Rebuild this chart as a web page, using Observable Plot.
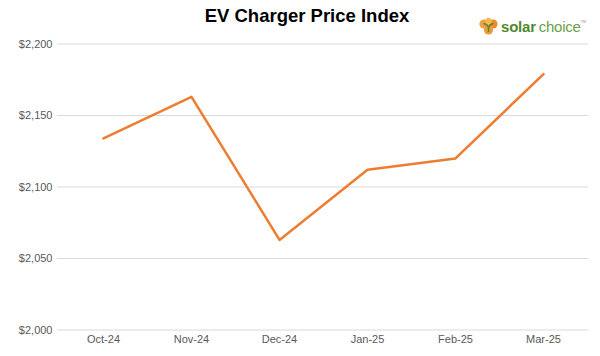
<!DOCTYPE html>
<html>
<head>
<meta charset="utf-8">
<script src="https://cdn.jsdelivr.net/npm/d3@7"></script>
<script src="https://cdn.jsdelivr.net/npm/@observablehq/plot@0.6"></script>
<style>
  body { margin: 0; background: #fff; font-family: "Liberation Sans", Arial, sans-serif; }
  #wrap { position: relative; width: 600px; height: 356px; overflow: hidden; }
  #title { position: absolute; left: 0; width: 614px; top: 5px; text-align: center; font-size: 18.5px; font-weight: bold; color: #000; }
  #logo { position: absolute; left: 479px; top: 17px; display: flex; align-items: center; }
  #logo .t1 { font-size: 15px; font-weight: bold; color: #4f8a2e; margin-left: 3px; letter-spacing: -0.2px; }
  #logo .t2 { font-size: 15px; color: #6aa14a; margin-left: 3px; letter-spacing: -0.3px; }
  #logo .tm { font-size: 4px; color: #999; align-self: flex-start; margin-top: 2px; }
  #chart { position: absolute; left: 0; top: 36px; }
</style>
</head>
<body>
<div id="wrap">
  <div id="title">EV Charger Price Index</div>
  <div id="logo">
    <svg width="19" height="18" viewBox="0 0 19 18">
      <circle cx="5" cy="7" r="4.6" fill="#f0a040"/>
      <circle cx="14" cy="7" r="4.6" fill="#eb8d2c"/>
      <circle cx="9.5" cy="13" r="4.6" fill="#f29a3a"/>
      <circle cx="9.5" cy="4" r="3.2" fill="#f7b955"/>
      <path d="M9.5 15 L9.5 9 M9.5 10 Q6.5 6 4.5 7 M9.5 10 Q12.5 6 14.5 7" stroke="#4f8a2e" stroke-width="1.5" fill="none"/>
    </svg>
    <span class="t1">solar</span><span class="t2">choice</span><span class="tm">TM</span>
  </div>
  <div id="chart"></div>
</div>
<script>
const months = ["Oct-24", "Nov-24", "Dec-24", "Jan-25", "Feb-25", "Mar-25"];
const prices = [2134, 2163, 2063, 2112, 2120, 2179];
const yTicks = [2000, 2050, 2100, 2150, 2200];

const data = months.map((m, i) => ({month: m, price: prices[i]}));
const fmt = d3.format("$,");

const chart = Plot.plot({
  width: 600,
  height: 320,
  marginLeft: 57,
  marginRight: 12,
  marginTop: 7.5,
  marginBottom: 26.5,
  style: {fontFamily: "'Liberation Sans', Arial, sans-serif", fontSize: "11px", background: "transparent"},
  x: {type: "point", domain: months, padding: 0.5, label: null},
  y: {domain: [2000, 2200], label: null},
  marks: [
    Plot.gridY(yTicks, {stroke: "#d9d9d9", strokeOpacity: 1, strokeWidth: 1}),
    Plot.axisY(yTicks, {tickSize: 0, tickPadding: 5, tickFormat: fmt, fill: "#595959", fontSize: 11, label: null}),
    Plot.axisX({tickSize: 0, tickPadding: 5, fill: "#595959", fontSize: 11, label: null}),
    Plot.line(data, {x: "month", y: "price", stroke: "#ed7d31", strokeWidth: 2.5, strokeLinejoin: "round"})
  ]
});
document.getElementById("chart").appendChild(chart);
</script>
</body>
</html>
